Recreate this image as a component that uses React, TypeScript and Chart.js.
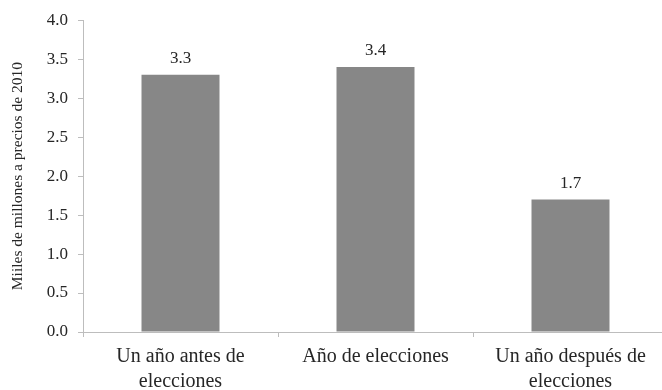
import React, { useEffect, useRef } from "react";
import { Chart, registerables } from "chart.js";

Chart.register(...registerables);

const categories: string[][] = [
  ["Un año antes de", "elecciones"],
  ["Año de elecciones"],
  ["Un año después de", "elecciones"],
];
const values: number[] = [3.3, 3.4, 1.7];
const valueLabels: string[] = ["3.3", "3.4", "1.7"];
const yTitle = "Miiles de millones a precios de 2010";

const FONT = "'Liberation Serif', 'DejaVu Serif', serif";
const AXIS_COLOR = "#bdbdbd";
const BAR_COLOR = "#878787";

const valueLabelPlugin = {
  id: "valueLabels",
  afterDatasetsDraw(chart: any) {
    const ctx = chart.ctx;
    const meta = chart.getDatasetMeta(0);
    ctx.save();
    ctx.fillStyle = "#262626";
    ctx.font = `17px ${FONT}`;
    ctx.textAlign = "center";
    ctx.textBaseline = "middle";
    meta.data.forEach((bar: any, i: number) => {
      ctx.fillText(valueLabels[i], bar.x, bar.y - 16);
    });
    ctx.restore();
  },
};

export default function App() {
  const canvasRef = useRef<HTMLCanvasElement>(null);

  useEffect(() => {
    if (!canvasRef.current) return;
    const chart = new Chart(canvasRef.current, {
      type: "bar",
      data: {
        labels: categories,
        datasets: [
          {
            data: values,
            backgroundColor: BAR_COLOR,
            categoryPercentage: 1,
            barPercentage: 0.4,
          },
        ],
      },
      options: {
        responsive: false,
        animation: false,
        layout: { padding: { top: 15, left: 0, right: 0, bottom: 0 } },
        plugins: {
          legend: { display: false },
          tooltip: { enabled: false },
        },
        scales: {
          x: {
            offset: true,
            grid: {
              offset: true,
              drawOnChartArea: false,
              drawTicks: true,
              tickLength: 5,
              tickColor: AXIS_COLOR,
            },
            border: { color: AXIS_COLOR, width: 1 },
            ticks: {
              color: "#262626",
              padding: 7,
              maxRotation: 0,
              autoSkip: false,
              font: { family: FONT, size: 20, lineHeight: 1.25 },
            },
            afterFit(scale: any) {
              scale.height = 58;
            },
          },
          y: {
            min: 0,
            max: 4,
            ticks: {
              stepSize: 0.5,
              color: "#262626",
              padding: 10,
              font: { family: FONT, size: 17 },
              callback: (v: any) => Number(v).toFixed(1),
            },
            grid: {
              drawOnChartArea: false,
              drawTicks: true,
              tickLength: 5,
              tickColor: AXIS_COLOR,
            },
            border: { color: AXIS_COLOR, width: 1 },
            title: {
              display: true,
              text: yTitle,
              color: "#262626",
              font: { family: FONT, size: 15.5 },
              padding: { top: 9, bottom: 0 },
            },
            afterFit(scale: any) {
              scale.width = 83;
            },
          },
        },
      },
      plugins: [valueLabelPlugin],
    });
    return () => chart.destroy();
  }, []);

  return (
    <div
      style={{
        position: "fixed",
        left: 0,
        top: 0,
        width: 662,
        height: 390,
        overflow: "hidden",
        background: "#ffffff",
      }}
    >
      <canvas ref={canvasRef} width={668} height={390} style={{ display: "block" }} />
    </div>
  );
}
